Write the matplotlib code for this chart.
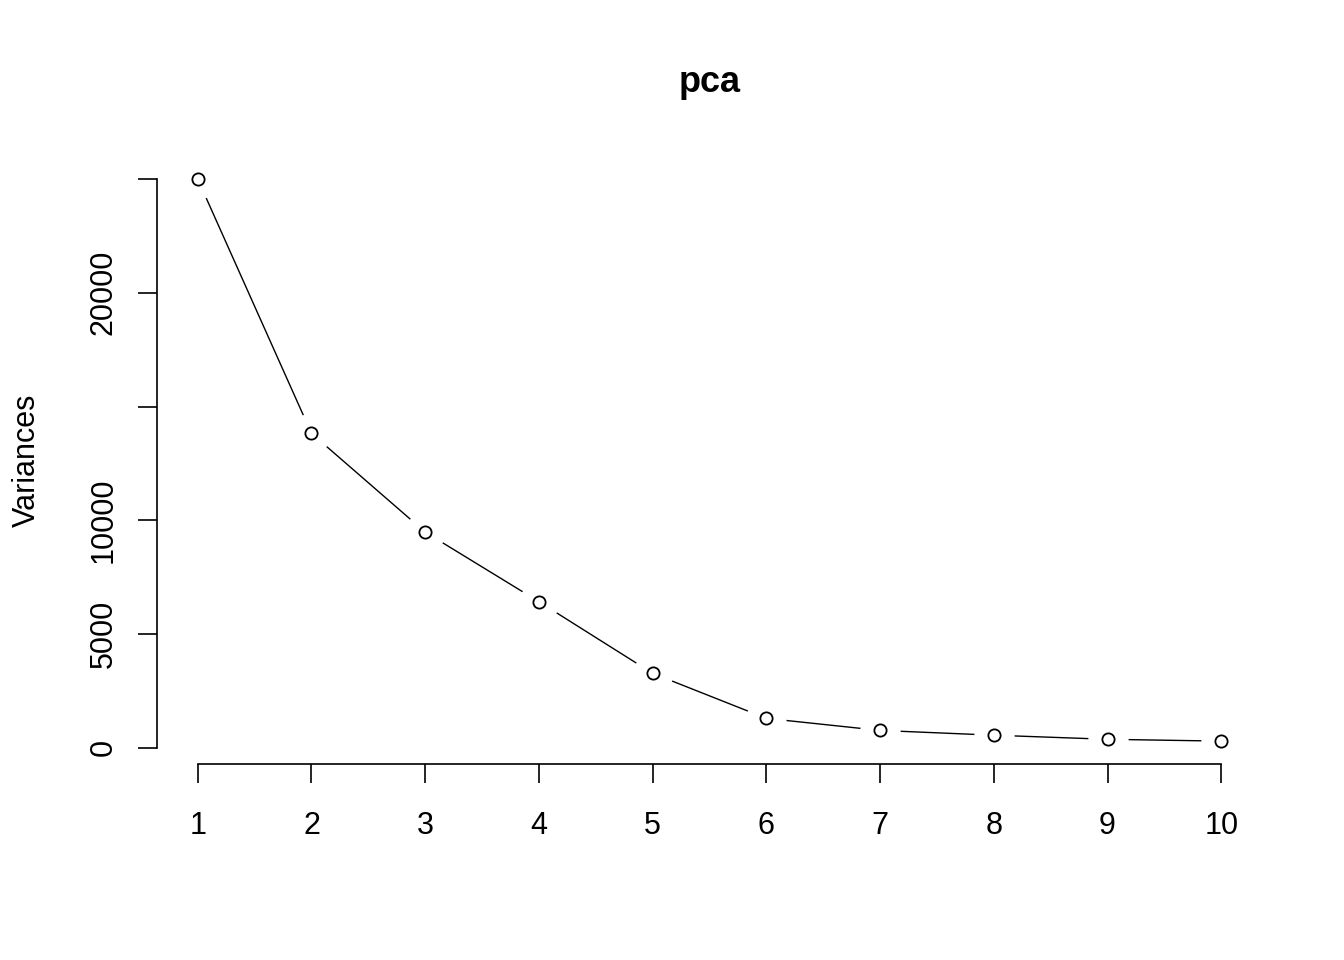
import numpy as np
import matplotlib
matplotlib.use("Agg")
import matplotlib.pyplot as plt

plt.rcParams['font.family'] = ['Liberation Sans', 'DejaVu Sans']

# scree plot values
components = [1, 2, 3, 4, 5, 6, 7, 8, 9, 10]
variances = [25000, 13820, 9480, 6420, 3270, 1290, 760, 550, 370, 290]

y_ticks = [0, 5000, 10000, 15000, 20000, 25000]
y_labels = ["0", "5000", "10000", "", "20000", ""]

fig = plt.figure(figsize=(13.44, 9.6), dpi=100)
ax = fig.add_axes([157 / 1344, 1 - 764 / 960, (1262 - 157) / 1344, (764 - 156.3) / 960])

# R type="b": line with gaps around the points
ax.plot(components, variances, color="black", lw=1.0, zorder=1.5)
ax.plot(components, variances, ls="none", marker="o", ms=29, mfc="white",
        mec="none", zorder=2)
ax.plot(components, variances, ls="none", marker="o", ms=8.8, mfc="white",
        mec="black", mew=1.3, zorder=3)

ax.set_xlim(0.642, 10.358)
ax.set_ylim(-716, 26000)

for s in ["top", "right"]:
    ax.spines[s].set_visible(False)
ax.spines["left"].set_bounds(0, 25000)
ax.spines["bottom"].set_bounds(1, 10)
for s in ["left", "bottom"]:
    ax.spines[s].set_linewidth(1.2)

ax.set_xticks(components)
ax.set_xticklabels([str(c) for c in components])
ax.set_yticks(y_ticks)
ax.set_yticklabels(y_labels, rotation=90, va="center")
ax.tick_params(axis="both", direction="out", length=13.5, width=1.2,
               labelsize=22)
ax.tick_params(axis="x", pad=20.5)
ax.tick_params(axis="y", pad=14)

ax.set_title("pca", fontsize=26, fontweight="bold", pad=46)
ax.set_ylabel("Variances", fontsize=22, labelpad=34)

fig.savefig("out.png", dpi=100)
